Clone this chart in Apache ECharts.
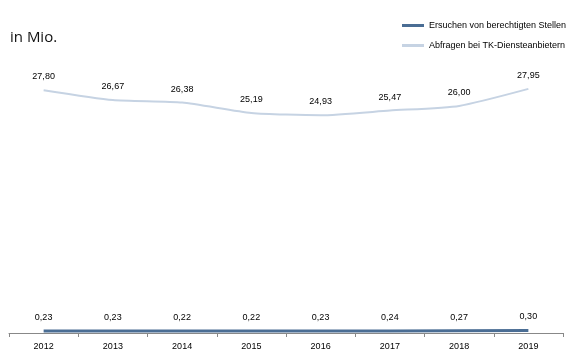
<!DOCTYPE html>
<html><head><meta charset="utf-8">
<script src="https://cdn.jsdelivr.net/npm/echarts@6/dist/echarts.min.js"></script>
<style>html,body{margin:0;padding:0;background:#fff}#c{width:572px;height:357px}</style>
</head><body><div id="c"></div>
<script>
const years = ['2012','2013','2014','2015','2016','2017','2018','2019'];
const ersuchen = [0.23,0.23,0.22,0.22,0.23,0.24,0.27,0.30];
const abfragen = [27.80,26.67,26.38,25.19,24.93,25.47,26.00,27.95];
const seriesNames = ['Ersuchen von berechtigten Stellen','Abfragen bei TK-Diensteanbietern'];
const fmt = v => v.toFixed(2).replace('.', ',');
const chart = echarts.init(document.getElementById('c'));
const lbl = {show:true, position:'top', distance:9, fontSize:9, color:'#000', fontFamily:'Liberation Sans, Arial, sans-serif', formatter:p=>fmt(p.value)};
chart.setOption({
  animation:false,
  grid:{left:9,right:9,top:71,bottom:24},
  title:{text:'in Mio.',left:5,top:25,textStyle:{fontSize:15,fontWeight:'normal',color:'#111',fontFamily:'Open Sans, DejaVu Sans, sans-serif'}},
  legend:{orient:'vertical',left:397,top:16,itemWidth:22,itemHeight:3,itemGap:11,icon:'rect',
    textStyle:{fontSize:9,color:'#000',fontFamily:'Liberation Sans, Arial, sans-serif'},
    data:seriesNames},
  xAxis:{type:'category',data:years,boundaryGap:true,
    axisLine:{lineStyle:{color:'#888',width:1}},
    axisTick:{show:true,length:4,lineStyle:{color:'#888'}},
    axisLabel:{fontSize:9,color:'#000',margin:9,fontFamily:'Liberation Sans, Arial, sans-serif'}},
  yAxis:{type:'value',min:0,max:30,show:false,splitLine:{show:false}},
  series:[
    {name:seriesNames[0],type:'line',data:ersuchen,symbol:'circle',symbolSize:0,showSymbol:true,itemStyle:{color:'#4a6d94'},lineStyle:{color:'#4a6d94',width:3},label:lbl,z:3},
    {name:seriesNames[1],type:'line',data:abfragen,symbol:'circle',symbolSize:0,showSymbol:true,smooth:0.2,itemStyle:{color:'#c6d3e3'},lineStyle:{color:'#c6d3e3',width:2},label:lbl,z:2}
  ]
});
</script></body></html>
